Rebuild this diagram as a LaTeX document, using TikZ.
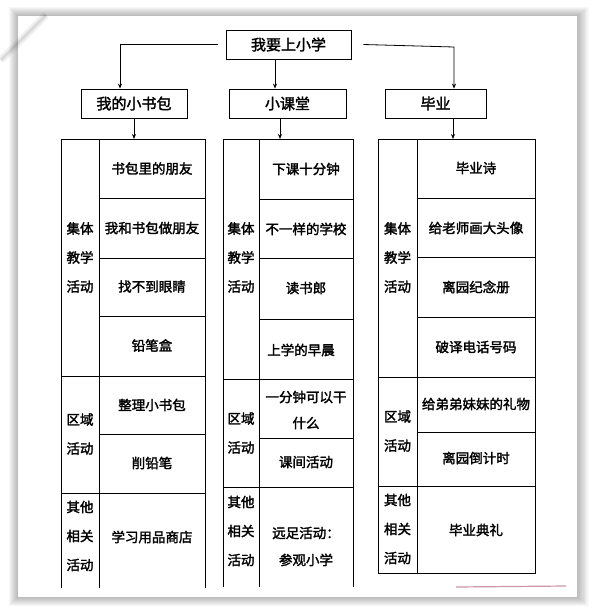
\documentclass[tikz,border=0pt]{standalone}
\usepackage{fontspec}
\setmainfont{Noto Sans CJK SC}[AutoFakeBold=2]
\usetikzlibrary{arrows.meta}
\begin{document}
\begin{tikzpicture}[x=1pt,y=-1pt,
  box/.style={draw, line width=0.8pt, inner sep=0pt, minimum height=29pt, font=\bfseries\fontsize{15}{15}\selectfont},
  lbl/.style={font=\bfseries\fontsize{13.5}{29}\selectfont, align=center, inner sep=0pt},
  cell/.style={font=\bfseries\fontsize{13.5}{27}\selectfont, align=center, inner sep=0pt},
  grid/.style={line width=0.8pt},
  arr/.style={line width=0.8pt, -{Stealth[length=5pt,width=4pt]}}]
% page and shadow
\useasboundingbox (0,0) rectangle (593,611);
\fill[white] (0,0) rectangle (593,611);
\foreach \i in {1,...,9}
  \fill[black, opacity=0.03] (18-\i,16-\i) rectangle (577+1.3*\i,597+\i);
\fill[white] (18,16) rectangle (577,597);
\foreach \w/\o in {8/0.04,5/0.05,2/0.07}
  \draw[black, opacity=\o, line width=\w pt] (1,60) -- (46,15);
\draw[color={rgb,255:red,205;green,150;blue,170}, line width=1.2pt] (456,587) -- (566,586);

% header boxes
\node[box, minimum width=125pt] (top) at (288.5,44.5) {我要上小学};
\node[box, minimum width=106pt] (bag) at (134,103.5) {我的小书包};
\node[box, minimum width=117pt] (cls) at (287.5,103.5) {小课堂};
\node[box, minimum width=101pt] (grad) at (435.5,103.5) {毕业};

% connectors
\coordinate (l1) at (120,44.5);
\coordinate (r1) at (454,47);
\coordinate (m1) at (275,0);
\coordinate (t1) at (134,139);
\coordinate (t2) at (280,139);
\coordinate (t3) at (453,139);
\draw[arr] ([xshift=-8pt]top.west) -- (l1) -- (l1 |- bag.north);
\draw[arr] (m1 |- top.south) -- (m1 |- cls.north);
\draw[arr] ([xshift=12pt]top.east) -- (r1) -- (r1 |- grad.north);
\draw[arr] (bag.south) -- (t1);
\draw[arr] (t2 |- cls.south) -- (t2);
\draw[arr] (t3 |- grad.south) -- (t3);

% table 1
\draw[grid] (61,588) -- (61,139) -- (205,139) -- (205,588);
\draw[grid] (99,139) -- (99,588);
\foreach \y in {198,258,316,434} \draw[grid] (99,\y) -- (205,\y);
\foreach \y in {376,493} \draw[grid] (61,\y) -- (205,\y);
\node[lbl] (a1) at (80,257.5) {集体\\教学\\活动};
\node[lbl] (a2) at (80,434) {区域\\活动};
\node[lbl] (a3) at (80,536) {其他\\相关\\活动};
\node[cell] (b1) at (152,168.5) {书包里的朋友};
\node[cell] (b2) at (152,228) {我和书包做朋友};
\node[cell] (b3) at (152,286.5) {找不到眼睛};
\node[cell] (b4) at (152,345.5) {铅笔盒};
\node[cell] (b5) at (152,405) {整理小书包};
\node[cell] (b6) at (152,463) {削铅笔};
\node[cell] (b7) at (152,537) {学习用品商店};

% table 2
\draw[grid] (223,587) -- (223,139) -- (353,139) -- (353,587);
\draw[grid] (259,139) -- (259,587);
\foreach \y in {199,258,319,438} \draw[grid] (259,\y) -- (353,\y);
\foreach \y in {379,487} \draw[grid] (223,\y) -- (353,\y);
\node[lbl] (c1) at (241,257.5) {集体\\教学\\活动};
\node[lbl] (c2) at (241,433) {区域\\活动};
\node[lbl] (c3) at (241,531) {其他\\相关\\活动};
\node[cell] (d1) at (306,169) {下课十分钟};
\node[cell] (d2) at (306,229) {不一样的学校};
\node[cell] (d3) at (306,288) {读书郎};
\node[cell] (d4) at (301,350) {上学的早晨};
\node[cell, font=\bfseries\fontsize{13.5}{26}\selectfont] (d5) at (306,410) {一分钟可以干\\什么};
\node[cell] (d6) at (306,462) {课间活动};
\node[cell] (d7) at (306,546.5) {远足活动：\\参观小学};

% table 3
\draw[grid] (378,139) rectangle (535,573);
\draw[grid] (417,139) -- (417,573);
\foreach \y in {198,257,317,432} \draw[grid] (417,\y) -- (535,\y);
\foreach \y in {377,486} \draw[grid] (378,\y) -- (535,\y);
\node[lbl] (e1) at (397.5,257.5) {集体\\教学\\活动};
\node[lbl] (e2) at (397.5,431) {区域\\活动};
\node[lbl] (e3) at (397.5,529) {其他\\相关\\活动};
\node[cell] (f1) at (476,168) {毕业诗};
\node[cell] (f2) at (476,228) {给老师画大头像};
\node[cell] (f3) at (476,287) {离园纪念册};
\node[cell] (f4) at (476,347) {破译电话号码};
\node[cell] (f5) at (476,404) {给弟弟妹妹的礼物};
\node[cell] (f6) at (476,458) {离园倒计时};
\node[cell] (f7) at (476,530) {毕业典礼};
\end{tikzpicture}
\end{document}
